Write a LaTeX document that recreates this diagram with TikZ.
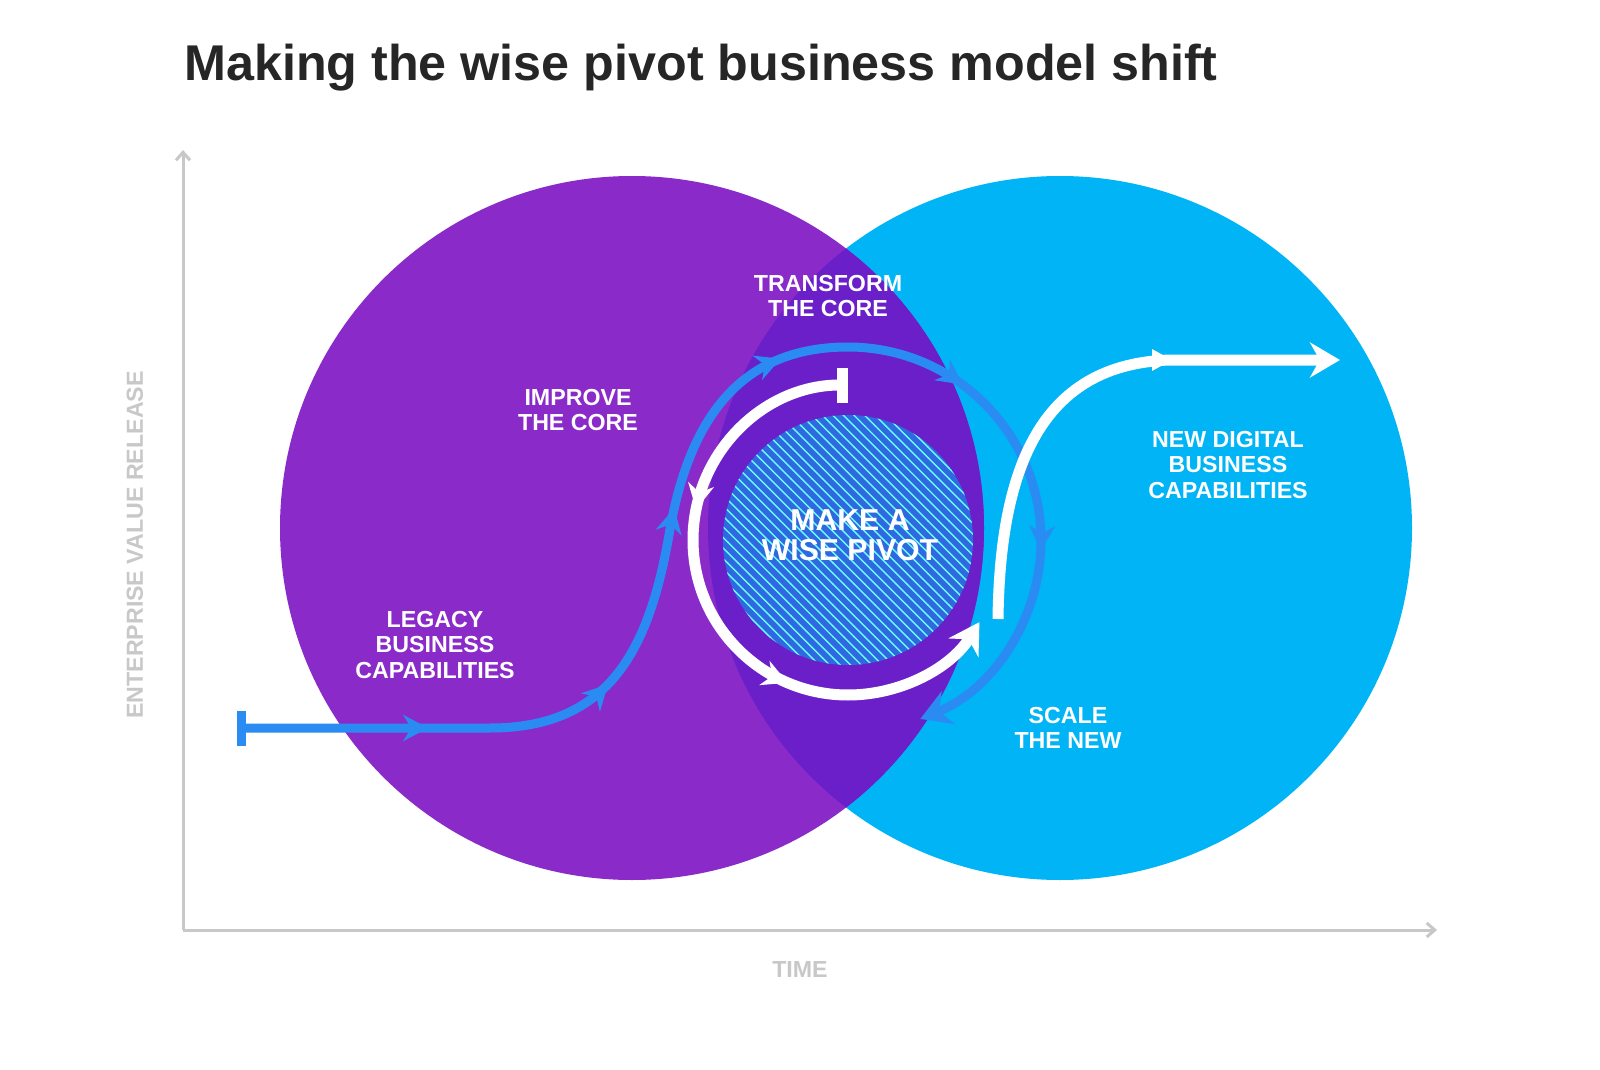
\documentclass[tikz,border=0pt]{standalone}
\usepackage{fontspec}
\setmainfont{Liberation Sans}
\usetikzlibrary{arrows.meta,decorations.markings,patterns}
\definecolor{legacy}{HTML}{8A2BC9}
\definecolor{newdig}{HTML}{00B4F5}
\definecolor{overlap}{HTML}{6A1FC9}
\definecolor{pathblue}{HTML}{2A8CF2}
\definecolor{hatchfill}{HTML}{3068E0}
\definecolor{axisgray}{HTML}{C8C8C8}
\tikzset{
  lbl/.style={text=white, font=\bfseries\fontsize{6.6}{7.2}\selectfont, align=center},
  midarrows/.style={postaction={decorate}, decoration={markings,
      mark=between positions #1 and 0.9 step #1 with {\arrow{Stealth[length=2.5mm,width=2.6mm]}}}},
}
\begin{document}
\begin{tikzpicture}[x=0.1mm, y=0.1mm]
  \useasboundingbox (0,0) rectangle (1600,1069);
  \fill[white] (0,0) rectangle (1600,1069);
  % title
  \node[anchor=west, font=\bfseries\fontsize{14.3}{16}\selectfont, text=black!85] (title) at (172,1001) {Making the wise pivot business model shift};
  % axes
  \coordinate (o) at (183,139);
  \coordinate (ytop) at (183,919);
  \coordinate (xend) at (1437,139);
  \draw[axisgray, line width=0.3mm, -{Straight Barb[length=0.8mm,width=1.4mm]}] (o) -- (ytop);
  \draw[axisgray, line width=0.3mm, -{Straight Barb[length=0.8mm,width=1.4mm]}] (o) -- (xend);
  \node[rotate=90, text=axisgray, font=\bfseries\fontsize{6.6}{8}\selectfont] (yl) at (135,524) {ENTERPRISE VALUE RELEASE};
  \node[text=axisgray, font=\bfseries\fontsize{6.6}{8}\selectfont] (xl) at (800,99) {TIME};
  % circles
  \fill[newdig] (1060,541) circle (352);
  \fill[legacy] (632,541) circle (352);
  \begin{scope}
    \clip (1060,541) circle (352);
    \fill[overlap] (632,541) circle (352);
  \end{scope}
  \fill[hatchfill] (848,529) circle (125);
  \fill[pattern=north west lines, pattern color=cyan!60] (848,529) circle (125);
  % white ring
  \coordinate (pivot) at (848,529);
  \draw[white, line width=1.1mm, {Bar[width=3.5mm]}-{Stealth[length=3mm,width=3.5mm]}, midarrows=0.33]
    (848,684) arc (90:328:155);
  % blue path
  \draw[pathblue, line width=0.9mm, {Bar[width=3.5mm]}-{Stealth[length=3mm,width=3.5mm]}, midarrows=0.14]
    (237,341) -- (490,341) .. controls (610,341) and (650,420) .. (670,540)
    .. controls (690,650) and (740,722) .. (848,722) arc (90:-68:193);
  % white S curve
  \draw[white, line width=1.1mm, -{Stealth[length=3mm,width=3.5mm]}]
    (998,450) .. controls (1000,600) and (1040,705) .. (1170,709) -- (1340,709);
  \fill[white] (1172,709) -- ++(-20,11) -- ++(0,-22) -- cycle;
  % labels
  \node[lbl] (trans) at (828,773) {TRANSFORM\\THE CORE};
  \node[lbl] (impr) at (578,659) {IMPROVE\\THE CORE};
  \node[lbl] (leg) at (435,424) {LEGACY\\BUSINESS\\CAPABILITIES};
  \node[lbl, font=\bfseries\fontsize{8.6}{8.6}\selectfont] (piv) at (850,534) {MAKE A\\WISE PIVOT};
  \node[lbl] (newd) at (1228,604) {NEW DIGITAL\\BUSINESS\\CAPABILITIES};
  \node[lbl] (scale) at (1068,341) {SCALE\\THE NEW};
\end{tikzpicture}
\end{document}
